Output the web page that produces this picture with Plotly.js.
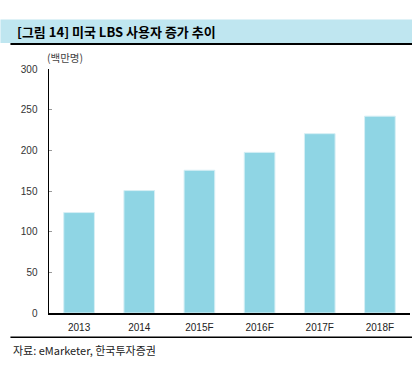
<!DOCTYPE html>
<html>
<head>
<meta charset="utf-8">
<script src="https://cdn.plot.ly/plotly-3.0.1.min.js"></script>
<style>html,body{margin:0;padding:0;background:#fff;}#chart{width:412px;height:374px;}</style>
</head>
<body>
<div id="chart"></div>
<script>
const categories = ["2013", "2014", "2015F", "2016F", "2017F", "2018F"];
const users = [123.5, 150.5, 175.5, 197.5, 220.5, 242];
const yTicks = [0, 50, 100, 150, 200, 250, 300];
const titleText = "[그림 14] 미국 LBS 사용자 증가 추이";
const unitText = "(백만명)";
const sourceText = "자료: eMarketer, 한국투자증권";

const W = 412, H = 374;
const L = 48.6, R = 410, T = 68.6, B = 312.8;
const pw = R - L, ph = B - T;
const px = x => (x - L) / pw;
const py = y => (B - y) / ph;

const trace = {
  type: "bar",
  x: categories,
  y: users,
  marker: {color: "#8fd5e4", line: {color: "#d6eff5", width: 1}},
  hoverinfo: "skip"
};

const layout = {
  width: W, height: H,
  margin: {l: L, r: W - R, t: T, b: H - B, pad: 0},
  paper_bgcolor: "#ffffff",
  plot_bgcolor: "#ffffff",
  showlegend: false,
  bargap: 0.49,
  font: {family: "'Liberation Sans', 'Noto Sans CJK KR', sans-serif", size: 10, color: "#333"},
  xaxis: {
    type: "category",
    showline: true, linecolor: "#000", linewidth: 1.5,
    ticks: "", showgrid: false, zeroline: false,
    tickfont: {size: 10, color: "#222"},
    ticklabelstandoff: 4
  },
  yaxis: {
    range: [0, 300],
    tickvals: yTicks,
    showline: true, linecolor: "#000", linewidth: 1.5,
    ticks: "inside", ticklen: 3, tickcolor: "#999",
    showgrid: false, zeroline: false,
    tickfont: {size: 10, color: "#333"},
    ticklabelstandoff: 8
  },
  shapes: [
    {type: "rect", xref: "paper", yref: "paper", x0: px(0), x1: px(412), y0: py(42.7), y1: py(19), fillcolor: "#bfe6f0", line: {width: 0}, layer: "below"},
    {type: "line", xref: "paper", yref: "paper", x0: px(10), x1: px(412), y0: py(43.5), y1: py(43.5), line: {color: "#000", width: 2}},
    {type: "line", xref: "paper", yref: "paper", x0: px(10), x1: px(412), y0: py(337), y1: py(337), line: {color: "#000", width: 1.5}}
  ],
  annotations: [
    {text: "<b>" + titleText + "</b>", xref: "paper", yref: "paper", x: px(15), y: py(31), xanchor: "left", yanchor: "middle", showarrow: false, font: {family: "'Noto Sans CJK KR', sans-serif", size: 13, color: "#000"}},
    {text: unitText, xref: "paper", yref: "paper", x: px(45), y: py(57), xanchor: "left", yanchor: "middle", showarrow: false, font: {family: "'Noto Sans CJK KR', sans-serif", size: 10.5, color: "#444"}},
    {text: sourceText, xref: "paper", yref: "paper", x: px(11), y: py(350), xanchor: "left", yanchor: "middle", showarrow: false, font: {family: "'Noto Sans CJK KR', sans-serif", size: 11, color: "#222"}}
  ]
};

Plotly.newPlot("chart", [trace], layout, {displayModeBar: false, staticPlot: true});
</script>
</body>
</html>
